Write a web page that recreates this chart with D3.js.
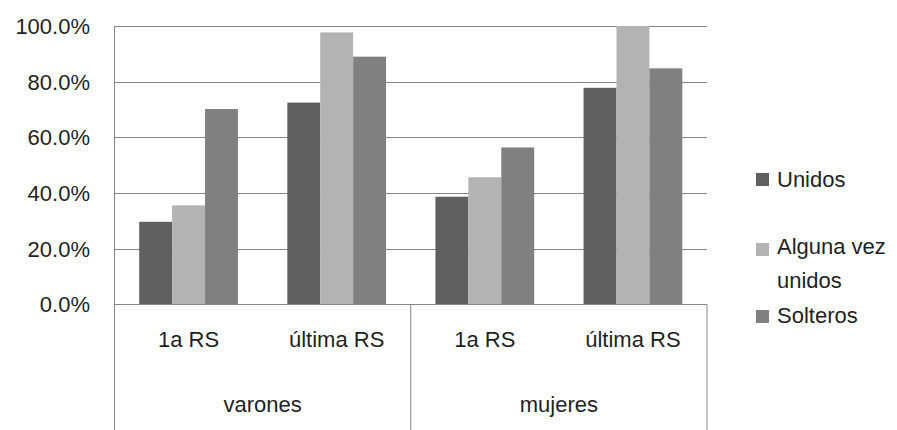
<!DOCTYPE html>
<html>
<head>
<meta charset="utf-8">
<script src="https://cdn.jsdelivr.net/npm/d3@7"></script>
<style>
  html, body { margin: 0; padding: 0; background: #ffffff; }
  svg { display: block; }
  text { font-family: "Liberation Sans", Arial, sans-serif; fill: #1f1f1f; }
</style>
</head>
<body>
<svg id="chart" width="897" height="430"></svg>
<script>
// Categories: group (sex) and relation moment
const groups = ["varones", "mujeres"];
const moments = ["1a RS", "última RS"];
const series = ["Unidos", "Alguna vez unidos", "Solteros"];

// Percentages (0–1) per series, ordered varones 1a RS, varones última RS, mujeres 1a RS, mujeres última RS
const unidos   = [0.297, 0.725, 0.387, 0.778];
const alguna   = [0.356, 0.977, 0.457, 1.000];
const solteros = [0.702, 0.890, 0.564, 0.848];

const yTicks = [0, 0.2, 0.4, 0.6, 0.8, 1.0];
const colors = ["#606060", "#b3b3b3", "#808080"];

(function draw() {
  const svg = d3.select("#chart");
  const H = 430;
  const plotL = 114.5, plotR = 707, plotT = 26, zero = 304.5;

  const cats = [];
  groups.forEach(g => moments.forEach(m => cats.push(g + "|" + m)));
  const values = [unidos, alguna, solteros];

  const x = d3.scaleBand().domain(cats).range([plotL, plotR]).paddingInner(0).paddingOuter(0);
  const xs = d3.scaleBand().domain(series).range([0, x.bandwidth()]).paddingInner(0).paddingOuter(0.75);
  const y = d3.scaleLinear().domain([0, 1]).range([zero, plotT]);

  const lineColor = "#868686";
  const fontSize = 22;

  // Horizontal gridlines
  svg.append("g").selectAll("line").data(yTicks.filter(d => d > 0)).join("line")
    .attr("x1", plotL).attr("x2", plotR)
    .attr("y1", d => Math.round(y(d)) + 0.5).attr("y2", d => Math.round(y(d)) + 0.5)
    .attr("stroke", lineColor).attr("stroke-width", 1);

  // Y tick labels
  svg.append("g").selectAll("text").data(yTicks).join("text")
    .attr("x", 90).attr("y", d => y(d) + fontSize * 0.36)
    .attr("text-anchor", "end")
    .attr("font-size", fontSize)
    .text(d => d3.format(".1%")(d));

  // Bars
  const barData = [];
  cats.forEach((c, i) => series.forEach((s, j) => barData.push({ c, s, j, v: values[j][i] })));
  svg.append("g").selectAll("rect").data(barData).join("rect")
    .attr("x", d => x(d.c) + xs(d.s))
    .attr("y", d => y(d.v))
    .attr("width", xs.bandwidth())
    .attr("height", d => zero - y(d.v))
    .attr("fill", d => colors[d.j]);

  // Axis lines: value axis, baseline and category box dividers
  const axis = svg.append("g").attr("stroke", lineColor).attr("stroke-width", 1);
  axis.append("line").attr("x1", plotL).attr("x2", plotL).attr("y1", plotT).attr("y2", H);
  axis.append("line").attr("x1", plotL).attr("x2", plotR).attr("y1", zero).attr("y2", zero);
  axis.append("line").attr("x1", (plotL + plotR) / 2).attr("x2", (plotL + plotR) / 2).attr("y1", zero).attr("y2", H);
  axis.append("line").attr("x1", plotR).attr("x2", plotR).attr("y1", zero).attr("y2", H);

  // Category labels (inner level)
  svg.append("g").selectAll("text").data(cats).join("text")
    .attr("x", d => x(d) + x.bandwidth() / 2)
    .attr("y", 347)
    .attr("text-anchor", "middle")
    .attr("font-size", fontSize)
    .text(d => d.split("|")[1]);

  // Group labels (outer level)
  const half = (plotR - plotL) / 2;
  svg.append("g").selectAll("text").data(groups).join("text")
    .attr("x", (d, i) => plotL + half * i + half / 2)
    .attr("y", 412)
    .attr("text-anchor", "middle")
    .attr("font-size", fontSize)
    .text(d => d);

  // Legend
  const legend = [
    { lines: ["Unidos"], sq: 173, base: 187 },
    { lines: ["Alguna vez", "unidos"], sq: 243, base: 254 },
    { lines: ["Solteros"], sq: 310, base: 323 }
  ];
  const lg = svg.append("g");
  legend.forEach((d, i) => {
    lg.append("rect").attr("x", 756).attr("y", d.sq).attr("width", 13).attr("height", 13).attr("fill", colors[i]);
    d.lines.forEach((t, k) => {
      lg.append("text").attr("x", 777).attr("y", d.base + k * 34)
        .attr("font-size", fontSize).text(t);
    });
  });
})();
</script>
</body>
</html>
